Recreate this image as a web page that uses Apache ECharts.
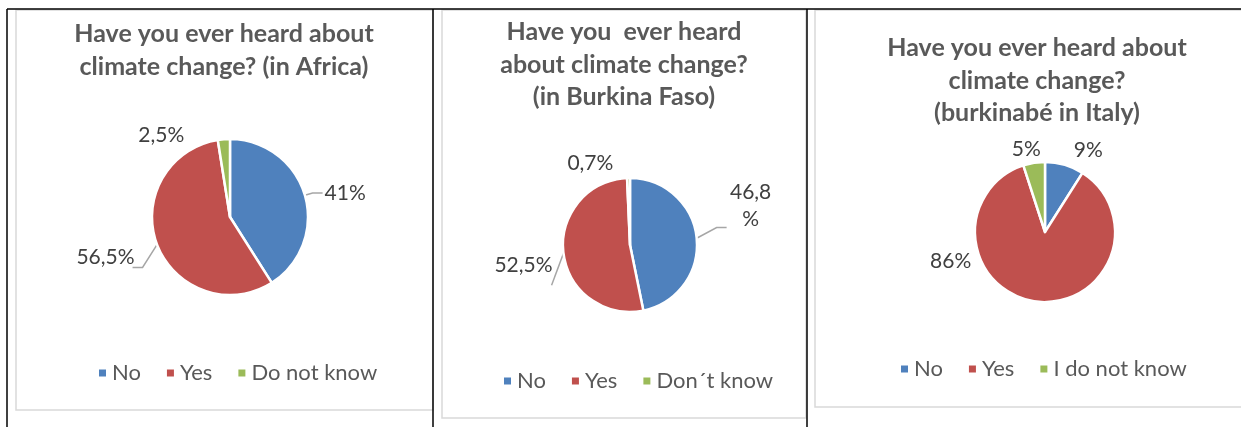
<!DOCTYPE html>
<html>
<head>
<meta charset="utf-8">
<script src="https://cdn.jsdelivr.net/npm/echarts@6/dist/echarts.min.js"></script>
<style>
  html, body { margin: 0; padding: 0; background: #fff; }
  #main { width: 1241px; height: 427px; }
</style>
</head>
<body>
<div id="main"></div>
<script>
// data for the three pies
const africaNames = ["No", "Yes", "Do not know"];
const africaValues = [41, 56.5, 2.5];
const burkinaNames = ["No", "Yes", "Don\u00b4t know"];
const burkinaValues = [46.8, 52.5, 0.7];
const italyNames = ["No", "Yes", "I do not know"];
const italyValues = [9, 86, 5];

const titles = [
  "Have you ever heard about\nclimate change? (in Africa)",
  "Have you  ever heard\nabout climate change?\n(in Burkina Faso)",
  "Have you ever heard about\nclimate change?\n(burkinab\u00e9 in Italy)"
];

const colors = ["#4F81BD", "#C0504D", "#9BBB59"];
const FONT = "Lato";

const chart = echarts.init(document.getElementById("main"));

function fmt(v) {
  return String(v).replace(".", ",") + "%";
}

function pieData(names, values) {
  return names.map((n, i) => ({
    name: n,
    value: values[i],
    itemStyle: { color: colors[i] }
  }));
}

// tweaks: per slice label nudge {d:[dx,dy], bend:[dx,dy], end:[dx,dy], align}
// noLine: slices drawn without a leader line (excel "best fit")
function pieSeries(names, values, center, radius, tweaks, noLine) {
  const data = pieData(names, values);
  (noLine || []).forEach(i => { data[i].labelLine = { show: false }; });
  return {
    type: "pie",
    center: center,
    radius: radius,
    startAngle: 90,
    clockwise: true,
    avoidLabelOverlap: false,
    itemStyle: { borderColor: "#fff", borderWidth: 2.5 },
    label: {
      show: true,
      position: "outside",
      formatter: p => fmt(p.value),
      color: "#404040",
      fontFamily: FONT,
      fontSize: 21
    },
    labelLine: {
      show: true,
      length: 8,
      length2: 10,
      lineStyle: { color: "#A6A6A6", width: 1.5 }
    },
    labelLayout: function (params) {
      const t = tweaks[params.dataIndex];
      if (!t) return {};
      const res = { dx: t.d[0], dy: t.d[1] };
      if (t.align) res.align = t.align;
      const pts = params.labelLinePoints;
      if (pts && (t.bend || t.end)) {
        const b = t.bend || [0, 0];
        const e = t.end || b;
        res.labelLinePoints = [
          pts[0].slice(),
          [pts[1][0] + b[0], pts[1][1] + b[1]],
          [pts[2][0] + e[0], pts[2][1] + e[1]]
        ];
      }
      return res;
    },
    emphasis: { disabled: true },
    data: data
  };
}

function legend(names, left, top) {
  return {
    data: names,
    left: left,
    top: top,
    icon: "rect",
    itemWidth: 9,
    itemHeight: 9,
    itemGap: 24,
    textStyle: { color: "#595959", fontFamily: FONT, fontSize: 22 }
  };
}

function title(text, left, top) {
  return {
    text: text,
    left: left,
    top: top,
    textAlign: "center",
    textStyle: {
      color: "#595959",
      fontFamily: FONT,
      fontWeight: "bold",
      fontSize: 25,
      lineHeight: 32.5
    }
  };
}

const s1 = pieSeries(africaNames, africaValues, [230, 217], 78, {
  0: { d: [-3, 0] },
  1: { d: [0, 10], bend: [-7, 20], end: [-7, 20] },
  2: { d: [-24, 4] }
}, [2]);
const s2 = pieSeries(burkinaNames, burkinaValues, [630, 245], 67, {
  0: { d: [31, -32], align: "center", bend: [12, -10], end: [12, -10] },
  1: { d: [12, 11], bend: [-4, 31], end: [6, 31] },
  2: { d: [0, -7] }
}, [2]);
s2.data[0].label = { width: 44, overflow: "breakAll", lineHeight: 27 };
const s3 = pieSeries(italyNames, italyValues, [1045, 232], 70, {
  0: { d: [-8, -7] },
  1: { d: [-49, -48] },
  2: { d: [23, -6] }
}, [0, 1, 2]);

const option = {
  backgroundColor: "#fff",
  animation: false,
  title: [
    title(titles[0], 219, 13),
    title(titles[1], 619, 11),
    title(titles[2], 1032, 27)
  ],
  legend: [
    legend(africaNames, 92, 357),
    legend(burkinaNames, 497, 365),
    legend(italyNames, 894, 353)
  ],
  series: [s1, s2, s3],
  graphic: [
    // light grey chart frames
    { type: "rect", shape: { x: 16, y: 10, width: 417, height: 400 }, style: { fill: "none", stroke: "#D9D9D9", lineWidth: 1.5 } },
    { type: "rect", shape: { x: 442, y: 10, width: 364, height: 408 }, style: { fill: "none", stroke: "#D9D9D9", lineWidth: 1.5 } },
    { type: "rect", shape: { x: 815, y: 10, width: 440, height: 397 }, style: { fill: "none", stroke: "#D9D9D9", lineWidth: 1.5 } },
    // black table lines
    { type: "line", shape: { x1: 7, y1: 9, x2: 1241, y2: 9 }, style: { stroke: "#000", lineWidth: 1.5 } },
    { type: "line", shape: { x1: 7, y1: 9, x2: 7, y2: 427 }, style: { stroke: "#000", lineWidth: 1.5 } },
    { type: "line", shape: { x1: 433, y1: 9, x2: 433, y2: 427 }, style: { stroke: "#000", lineWidth: 1.5 } },
    { type: "line", shape: { x1: 807, y1: 9, x2: 807, y2: 427 }, style: { stroke: "#000", lineWidth: 1.5 } }
  ]
};

chart.setOption(option);
</script>
</body>
</html>
